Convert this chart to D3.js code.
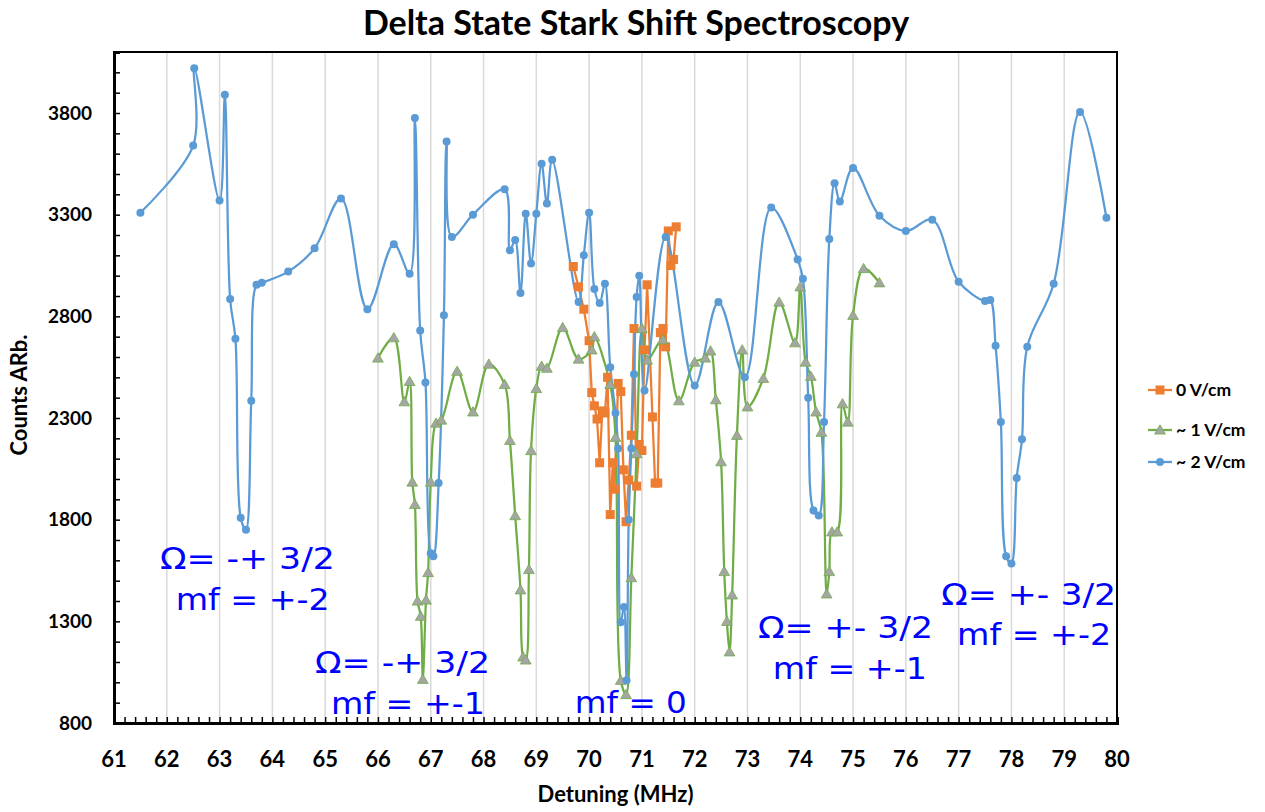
<!DOCTYPE html>
<html>
<head>
<meta charset="utf-8">
<script src="https://cdn.jsdelivr.net/npm/d3@7"></script>
<style>
  body { margin: 0; background: #fff; }
  svg { display: block; }
  .lbl { font-family: Lato, "Open Sans", sans-serif; font-weight: bold; fill: #000; }
  .anot { font-family: "DejaVu Sans", Verdana, sans-serif; fill: #0000ff; }
</style>
</head>
<body>
<svg id="grafico"></svg>
<script>
// dados (x = MHz, y = contagens)
const serie0 = [
  [69.7,3045],[69.8,2945],[69.9,2835],[70.0,2680],[70.05,2425],[70.1,2360],[70.15,2295],[70.2,2080],
  [70.25,2335],[70.3,2325],[70.35,2500],[70.4,1825],[70.45,2080],[70.48,1950],[70.55,2470],[70.6,2430],
  [70.65,2045],[70.7,1790],[70.75,1995],[70.8,2215],[70.85,2740],[70.9,1965],[70.95,2170],[71.0,2140],
  [71.05,2635],[71.1,2955],[71.2,2305],[71.25,1980],[71.3,1980],[71.35,2720],[71.4,2740],[71.45,2650],
  [71.5,3220],[71.55,3050],[71.6,3080],[71.65,3240]
]
const serie1 = [
  [66.0,2595],[66.3,2695],[66.5,2380],[66.6,2480],[66.65,1985],[66.7,1875],[66.75,1400],[66.81,1325],
  [66.85,1015],[66.91,1405],[66.95,1540],[67.0,1985],[67.1,2275],[67.2,2290],[67.5,2530],[67.8,2330],
  [68.1,2565],[68.4,2465],[68.5,2190],[68.6,1820],[68.7,1455],[68.75,1125],[68.8,1110],[68.86,1555],
  [68.9,2140],[69.0,2445],[69.1,2555],[69.2,2545],[69.5,2745],[69.8,2590],[70.05,2635],[70.1,2700],
  [70.4,2465],[70.5,2205],[70.6,1010],[70.7,940],[70.8,1515],[70.9,2125],[71.0,2740],[71.1,2585],
  [71.4,2685],[71.7,2385],[72.0,2575],[72.2,2595],[72.3,2630],[72.4,2390],[72.5,2085],[72.56,1545],
  [72.61,1300],[72.66,1150],[72.71,1430],[72.8,2215],[72.9,2635],[73.0,2355],[73.3,2495],[73.6,2870],
  [73.9,2670],[74.0,2945],[74.1,2575],[74.2,2505],[74.3,2330],[74.4,2230],[74.5,1435],[74.55,1545],
  [74.6,1740],[74.7,1740],[74.8,2370],[74.9,2280],[75.0,2805],[75.2,3035],[75.5,2965]
]
const serie2 = [
  [61.5,3310],[62.5,3640],[62.52,4020],[63.0,3370],[63.1,3890],[63.2,2885],[63.3,2690],[63.4,1810],
  [63.5,1750],[63.6,2385],[63.7,2955],[63.8,2965],[64.3,3020],[64.8,3135],[65.3,3380],[65.8,2835],
  [66.3,3155],[66.6,3010],[66.7,3775],[66.8,2730],[66.9,2475],[67.0,1635],[67.05,1620],[67.15,1980],
  [67.25,2805],[67.3,3660],[67.4,3190],[67.8,3300],[68.4,3425],[68.5,3125],[68.6,3175],[68.7,2915],
  [68.8,3305],[68.9,3060],[69.0,3305],[69.1,3550],[69.2,3355],[69.3,3570],[69.8,2870],[69.9,3100],
  [70.0,3310],[70.1,2935],[70.2,2865],[70.3,2960],[70.4,2550],[70.5,2325],[70.55,2150],[70.6,1295],
  [70.66,1370],[70.71,1010],[70.75,1800],[70.8,2150],[70.85,2515],[70.9,2895],[70.95,3000],[71.05,2435],
  [71.45,3190],[72.0,2460],[72.45,2870],[72.95,2500],[73.45,3335],[73.95,3080],[74.05,2985],[74.15,2400],
  [74.25,1845],[74.35,1820],[74.45,2280],[74.55,3180],[74.65,3455],[74.75,3365],[75.0,3530],[75.5,3295],
  [76.0,3220],[76.5,3275],[77.0,2970],[77.5,2875],[77.6,2880],[77.7,2655],[77.8,2280],[77.9,1620],
  [78.0,1585],[78.1,2005],[78.2,2195],[78.3,2650],[78.8,2960],[79.3,3805],[79.8,3285]
]
const nomesSeries = ['0 V/cm', '~ 1 V/cm', '~ 2 V/cm']
const ticksX = d3.range(61, 81, 1)
const ticksY = [800, 1300, 1800, 2300, 2800, 3300, 3800]

// anotacoes: [x, y, texto]
const anotacoes = [
  [61.87, 1557, 'Ω= -+ 3/2'], [62.17, 1356, 'mf = +-2'],
  [64.81, 1046, 'Ω= -+ 3/2'], [65.11, 844, 'mf = +-1'],
  [69.73, 849, 'mf = 0'],
  [73.20, 1218, 'Ω= +- 3/2'], [73.48, 1016, 'mf = +-1'],
  [76.67, 1380, 'Ω= +- 3/2'], [76.97, 1184, 'mf = +-2']
]

const largura = 1265, altura = 812
const margens = {esquerda: 114, direita: 148, superior: 52, inferior: 89}
const larguraPlot = largura - margens.esquerda - margens.direita
const alturaPlot = altura - margens.superior - margens.inferior

const svg = d3.select('#grafico').attr('width', largura).attr('height', altura)
const plot = svg.append('g').attr('transform', `translate(${margens.esquerda},${margens.superior})`)

const fnX = d3.scaleLinear().domain([61, 80]).range([0, larguraPlot])
const fnY = d3.scaleLinear().domain([800, 4100]).range([alturaPlot, 0])

// grade vertical
plot.append('g').selectAll('line').data(ticksX.slice(1, -1)).join('line')
  .attr('x1', d => fnX(d)).attr('x2', d => fnX(d))
  .attr('y1', 0).attr('y2', alturaPlot)
  .attr('stroke', '#d9d9d9').attr('stroke-width', 1.5)

// borda
plot.append('rect').attr('width', larguraPlot).attr('height', alturaPlot)
  .attr('fill', 'none').attr('stroke', '#000').attr('stroke-width', 2)

// eixos com ticks para dentro
plot.append('g').attr('transform', `translate(0,${alturaPlot})`)
  .call(d3.axisBottom(fnX).tickValues(d3.range(61, 80.001, 0.2)).tickSize(-6).tickFormat(''))
  .call(g => g.select('.domain').attr('stroke-width', 3))
  .call(g => g.selectAll('.tick line').attr('stroke-width', 1.5))
plot.append('g')
  .call(d3.axisLeft(fnY).tickValues(d3.range(800, 4100.001, 100)).tickSize(-6).tickFormat(''))
  .call(g => g.select('.domain').attr('stroke-width', 3))
  .call(g => g.selectAll('.tick line').attr('stroke-width', 1.5))

plot.append('g').selectAll('text').data(ticksX).join('text').attr('class', 'lbl')
  .attr('x', d => fnX(d)).attr('y', alturaPlot + 44)
  .attr('text-anchor', 'middle').attr('font-size', 22).text(d => d)
plot.append('g').selectAll('text').data(ticksY).join('text').attr('class', 'lbl')
  .attr('x', -22).attr('y', d => fnY(d)).attr('dy', '0.35em')
  .attr('text-anchor', 'end').attr('font-size', 19).text(d => d)

// series
const cores = ['#ed7d31', '#70ad47', '#5b9bd5']
const series = [serie0, serie1, serie2]
const curvas = [d3.curveLinear, d3.curveCatmullRom.alpha(0.5), d3.curveCatmullRom.alpha(0.5)]

series.forEach((s, i) => {
  let linha = d3.line().x(d => fnX(d[0])).y(d => fnY(d[1])).curve(curvas[i])
  plot.append('path').datum(s).attr('d', linha)
    .attr('fill', 'none').attr('stroke', cores[i]).attr('stroke-width', 2.25)
})

function marcador(g, i, x, y) {
  if (i == 0) {
    g.append('rect').attr('x', x - 4.5).attr('y', y - 4.5).attr('width', 9).attr('height', 9)
      .attr('fill', cores[0])
  } else if (i == 1) {
    g.append('path').attr('d', d3.symbol(d3.symbolTriangle, 50)())
      .attr('transform', `translate(${x},${y + 1})`)
      .attr('fill', '#a5a5a5').attr('stroke', cores[1]).attr('stroke-width', 0.8)
  } else {
    g.append('circle').attr('cx', x).attr('cy', y).attr('r', 4).attr('fill', cores[2])
  }
}

series.forEach((s, i) => {
  let g = plot.append('g')
  s.forEach(d => marcador(g, i, fnX(d[0]), fnY(d[1])))
})

// anotacoes (largura ajustada ao original)
plot.append('g').selectAll('text').data(anotacoes).join('text').attr('class', 'anot')
  .attr('x', d => fnX(d[0])).attr('y', d => fnY(d[1]))
  .attr('font-size', 31)
  .attr('textLength', d => d[2].startsWith('Ω') ? 175 : (d[2] == 'mf = 0' ? 112 : 154))
  .attr('lengthAdjust', 'spacingAndGlyphs')
  .text(d => d[2])

// titulos
svg.append('text').attr('class', 'lbl').attr('x', 636).attr('y', 35)
  .attr('text-anchor', 'middle').attr('font-size', 34).text('Delta State Stark Shift Spectroscopy')
svg.append('text').attr('class', 'lbl')
  .attr('x', margens.esquerda + larguraPlot / 2).attr('y', 802)
  .attr('text-anchor', 'middle').attr('font-size', 22).text('Detuning (MHz)')
svg.append('text').attr('class', 'lbl')
  .attr('transform', 'translate(27,395) rotate(-90)')
  .attr('text-anchor', 'middle').attr('font-size', 22).text('Counts ARb.')

// legenda
const legenda = svg.append('g').attr('transform', 'translate(1148,390)')
nomesSeries.forEach((n, i) => {
  let yy = [0, 40, 72][i]
  legenda.append('line').attr('x1', 0).attr('x2', 24).attr('y1', yy).attr('y2', yy)
    .attr('stroke', cores[i]).attr('stroke-width', 2.25)
  marcador(legenda, i, 12, yy)
  legenda.append('text').attr('class', 'lbl').attr('x', 28).attr('y', yy).attr('dy', '0.35em')
    .attr('font-size', 17.5).text(n)
})
</script>
</body>
</html>
